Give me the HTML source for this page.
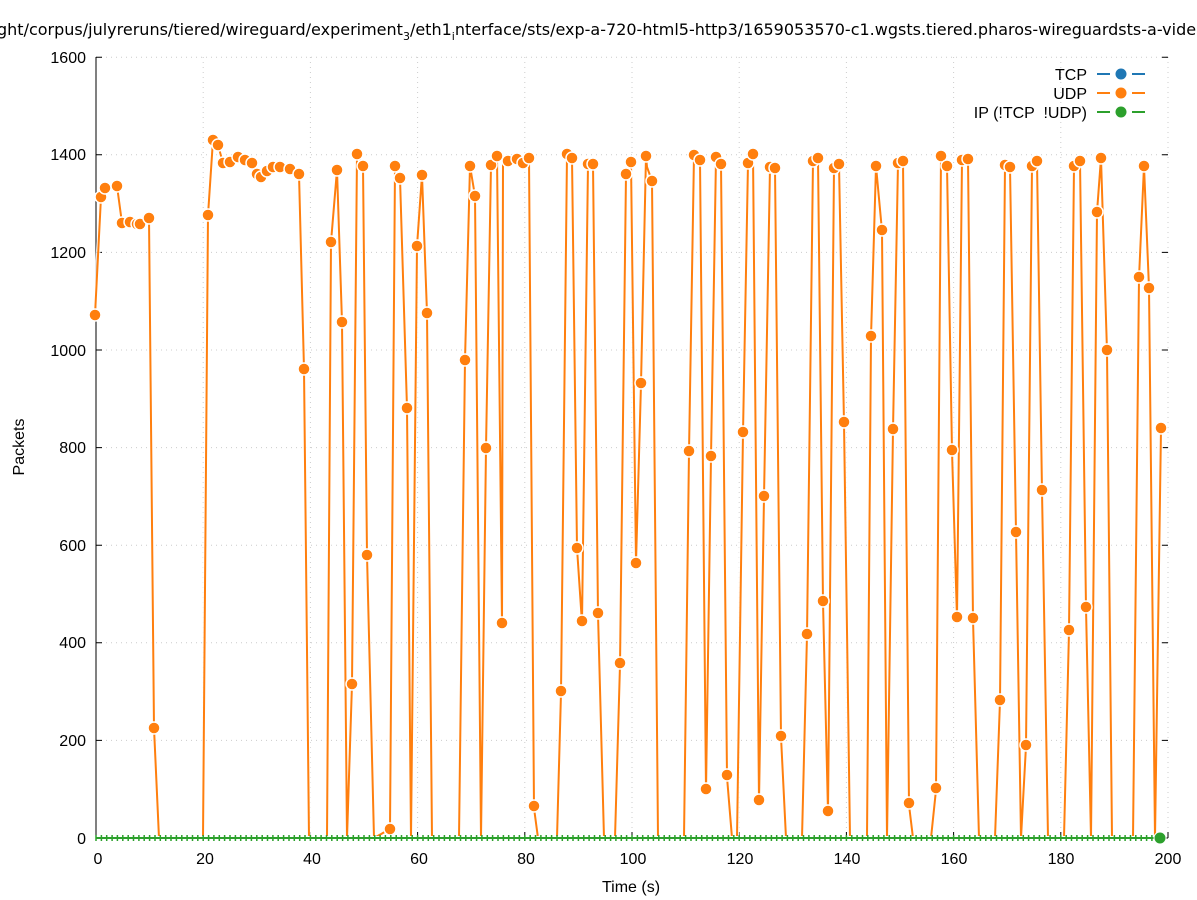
<!DOCTYPE html>
<html><head><meta charset="utf-8"><style>body{margin:0;background:#fff}svg{display:block;font-family:"Liberation Sans","DejaVu Sans",sans-serif}</style></head>
<body>
<svg width="1197" height="900" viewBox="0 0 1197 900" xmlns="http://www.w3.org/2000/svg">
<rect width="1197" height="900" fill="#fff"/>
<g stroke="#ccc" stroke-width="1" stroke-dasharray="1,4">
<line x1="96" y1="740.4" x2="1168" y2="740.4"/><line x1="96" y1="642.8" x2="1168" y2="642.8"/><line x1="96" y1="545.2" x2="1168" y2="545.2"/><line x1="96" y1="447.6" x2="1168" y2="447.6"/><line x1="96" y1="350" x2="1168" y2="350"/><line x1="96" y1="252.4" x2="1168" y2="252.4"/><line x1="96" y1="154.8" x2="1168" y2="154.8"/><line x1="96" y1="57.2" x2="1168" y2="57.2"/>
<line x1="203.2" y1="57" x2="203.2" y2="838"/><line x1="310.4" y1="57" x2="310.4" y2="838"/><line x1="417.6" y1="57" x2="417.6" y2="838"/><line x1="524.8" y1="57" x2="524.8" y2="838"/><line x1="632" y1="57" x2="632" y2="838"/><line x1="739.2" y1="57" x2="739.2" y2="838"/><line x1="846.4" y1="57" x2="846.4" y2="838"/><line x1="953.6" y1="57" x2="953.6" y2="838"/><line x1="1060.8" y1="57" x2="1060.8" y2="838"/><line x1="1168" y1="57" x2="1168" y2="838"/>
</g>
<g stroke="#000" stroke-width="1">
<line x1="96" y1="57" x2="96" y2="838"/><line x1="96" y1="838" x2="1168" y2="838"/>
<path d="M96 740.4h6M96 642.8h6M96 545.2h6M96 447.6h6M96 350h6M96 252.4h6M96 154.8h6M96 57.2h6M1168 740.4h-6M1168 642.8h-6M1168 545.2h-6M1168 447.6h-6M1168 350h-6M1168 252.4h-6M1168 154.8h-6M1168 57.2h-6M203.2 838v-6M310.4 838v-6M417.6 838v-6M524.8 838v-6M632 838v-6M739.2 838v-6M846.4 838v-6M953.6 838v-6M1060.8 838v-6M1168 838v-6"/>
</g>
<g font-size="16" fill="#000" text-anchor="end">
<text x="86" y="844">0</text><text x="86" y="746">200</text><text x="86" y="648">400</text><text x="86" y="551">600</text><text x="86" y="453">800</text><text x="86" y="356">1000</text><text x="86" y="258">1200</text><text x="86" y="160">1400</text><text x="86" y="63">1600</text>
</g>
<g font-size="16" fill="#000" text-anchor="middle">
<text x="98" y="864">0</text><text x="205" y="864">20</text><text x="312" y="864">40</text><text x="419" y="864">60</text><text x="526" y="864">80</text><text x="633" y="864">100</text><text x="740" y="864">120</text><text x="847" y="864">140</text><text x="954" y="864">160</text><text x="1061" y="864">180</text><text x="1168" y="864">200</text>
<text x="631" y="892">Time (s)</text>
<text transform="translate(24,447) rotate(-90)">Packets</text>
</g>
<text x="-3" y="35" font-size="16" fill="#000" style="font-family:'DejaVu Sans',sans-serif">ght/corpus/julyreruns/tiered/wireguard/experiment<tspan font-size="11" dy="5">3</tspan><tspan dy="-5">/eth1</tspan><tspan font-size="11" dy="5">i</tspan><tspan dy="-5">nterface/sts/exp-a-720-html5-http3/1659053570-c1.wgsts.tiered.pharos-wireguardsts-a-vide</tspan></text>
<g fill="none" stroke-linejoin="round">
<polyline stroke="#fff" stroke-width="4.5" opacity="0.8" points="95,315 101,197 105,188 117,186 122,223 130,222 137,224 140,224 149,218 154,728 159,838 203,838 208,215 213,140 218,145 223,163 230,162 238,157 252,163 257,174 261,177 267,171 273,167 280,167 290,169 299,174 304,369 309,838 327,838 331,242 337,170 342,322 347,838 352,684 357,154 363,166 367,555 374,838 390,829 395,166 400,178 407,408 411,838 417,246 422,175 427,313 432,838 459,838 465,360 470,166 475,196 481,838 486,448 491,165 497,156 502,623 503,161 508,161 517,159 523,163 529,158 534,808 538,838 557,838 561,693 567,154 572,158 577,548 582,623 588,164 593,164 598,614 604,838 615,838 620,665 626,174 631,162 636,563 641,384 646,156 647,167 652,181 658,838 684,838 689,452 694,155 700,160 706,791 711,457 716,157 721,164 727,777 732,838 737,838 743,433 748,163 753,154 759,801 764,497 770,167 775,168 781,737 786,838 802,838 807,635 813,161 818,158 823,602 828,812 834,168 839,164 844,423 850,838 867,838 871,337 876,166 882,231 887,838 893,430 898,163 903,161 909,805 913,838 931,838 936,790 941,156 947,166 952,451 957,618 962,160 968,159 973,619 979,838 995,838 1000,701 1005,165 1010,167 1016,532 1021,838 1026,746 1032,166 1037,161 1042,491 1048,838 1064,838 1069,631 1074,166 1080,161 1086,608 1091,838 1097,212 1101,158 1107,351 1112,838 1133,838 1139,278 1144,166 1149,288 1155,838 1161,429"/>
<polyline stroke="#ff7f0e" stroke-width="2" points="95,315 101,197 105,188 117,186 122,223 130,222 137,224 140,224 149,218 154,728 159,838 203,838 208,215 213,140 218,145 223,163 230,162 238,157 252,163 257,174 261,177 267,171 273,167 280,167 290,169 299,174 304,369 309,838 327,838 331,242 337,170 342,322 347,838 352,684 357,154 363,166 367,555 374,838 390,829 395,166 400,178 407,408 411,838 417,246 422,175 427,313 432,838 459,838 465,360 470,166 475,196 481,838 486,448 491,165 497,156 502,623 503,161 508,161 517,159 523,163 529,158 534,808 538,838 557,838 561,693 567,154 572,158 577,548 582,623 588,164 593,164 598,614 604,838 615,838 620,665 626,174 631,162 636,563 641,384 646,156 647,167 652,181 658,838 684,838 689,452 694,155 700,160 706,791 711,457 716,157 721,164 727,777 732,838 737,838 743,433 748,163 753,154 759,801 764,497 770,167 775,168 781,737 786,838 802,838 807,635 813,161 818,158 823,602 828,812 834,168 839,164 844,423 850,838 867,838 871,337 876,166 882,231 887,838 893,430 898,163 903,161 909,805 913,838 931,838 936,790 941,156 947,166 952,451 957,618 962,160 968,159 973,619 979,838 995,838 1000,701 1005,165 1010,167 1016,532 1021,838 1026,746 1032,166 1037,161 1042,491 1048,838 1064,838 1069,631 1074,166 1080,161 1086,608 1091,838 1097,212 1101,158 1107,351 1112,838 1133,838 1139,278 1144,166 1149,288 1155,838 1161,429"/>
</g>
<g fill="#ff7f0e" stroke="#fff" stroke-width="1.5">
<circle cx="95" cy="315" r="6"/><circle cx="101" cy="197" r="6"/><circle cx="105" cy="188" r="6"/><circle cx="117" cy="186" r="6"/><circle cx="122" cy="223" r="6"/><circle cx="130" cy="222" r="6"/><circle cx="137" cy="224" r="6"/><circle cx="140" cy="224" r="6"/><circle cx="149" cy="218" r="6"/><circle cx="154" cy="728" r="6"/>
<circle cx="208" cy="215" r="6"/><circle cx="213" cy="140" r="6"/><circle cx="218" cy="145" r="6"/><circle cx="223" cy="163" r="6"/><circle cx="230" cy="162" r="6"/><circle cx="238" cy="157" r="6"/><circle cx="245" cy="160" r="6"/><circle cx="252" cy="163" r="6"/><circle cx="257" cy="174" r="6"/><circle cx="261" cy="177" r="6"/><circle cx="267" cy="171" r="6"/><circle cx="273" cy="167" r="6"/><circle cx="280" cy="167" r="6"/><circle cx="290" cy="169" r="6"/><circle cx="299" cy="174" r="6"/><circle cx="304" cy="369" r="6"/>
<circle cx="331" cy="242" r="6"/><circle cx="337" cy="170" r="6"/><circle cx="342" cy="322" r="6"/><circle cx="352" cy="684" r="6"/><circle cx="357" cy="154" r="6"/><circle cx="363" cy="166" r="6"/><circle cx="367" cy="555" r="6"/><circle cx="390" cy="829" r="6"/><circle cx="395" cy="166" r="6"/><circle cx="400" cy="178" r="6"/><circle cx="407" cy="408" r="6"/><circle cx="417" cy="246" r="6"/><circle cx="422" cy="175" r="6"/><circle cx="427" cy="313" r="6"/>
<circle cx="465" cy="360" r="6"/><circle cx="470" cy="166" r="6"/><circle cx="475" cy="196" r="6"/><circle cx="486" cy="448" r="6"/><circle cx="491" cy="165" r="6"/><circle cx="497" cy="156" r="6"/><circle cx="502" cy="623" r="6"/><circle cx="508" cy="161" r="6"/><circle cx="517" cy="159" r="6"/><circle cx="523" cy="163" r="6"/><circle cx="529" cy="158" r="6"/><circle cx="534" cy="806" r="6"/>
<circle cx="561" cy="691" r="6"/><circle cx="567" cy="154" r="6"/><circle cx="572" cy="158" r="6"/><circle cx="577" cy="548" r="6"/><circle cx="582" cy="621" r="6"/><circle cx="588" cy="164" r="6"/><circle cx="593" cy="164" r="6"/><circle cx="598" cy="613" r="6"/><circle cx="620" cy="663" r="6"/><circle cx="626" cy="174" r="6"/><circle cx="631" cy="162" r="6"/><circle cx="636" cy="563" r="6"/><circle cx="641" cy="383" r="6"/><circle cx="646" cy="156" r="6"/><circle cx="652" cy="181" r="6"/>
<circle cx="689" cy="451" r="6"/><circle cx="694" cy="155" r="6"/><circle cx="700" cy="160" r="6"/><circle cx="706" cy="789" r="6"/><circle cx="711" cy="456" r="6"/><circle cx="716" cy="157" r="6"/><circle cx="721" cy="164" r="6"/><circle cx="727" cy="775" r="6"/><circle cx="743" cy="432" r="6"/><circle cx="748" cy="163" r="6"/><circle cx="753" cy="154" r="6"/><circle cx="759" cy="800" r="6"/><circle cx="764" cy="496" r="6"/><circle cx="770" cy="167" r="6"/><circle cx="775" cy="168" r="6"/><circle cx="781" cy="736" r="6"/>
<circle cx="807" cy="634" r="6"/><circle cx="813" cy="161" r="6"/><circle cx="818" cy="158" r="6"/><circle cx="823" cy="601" r="6"/><circle cx="828" cy="811" r="6"/><circle cx="834" cy="168" r="6"/><circle cx="839" cy="164" r="6"/><circle cx="844" cy="422" r="6"/><circle cx="871" cy="336" r="6"/><circle cx="876" cy="166" r="6"/><circle cx="882" cy="230" r="6"/><circle cx="893" cy="429" r="6"/><circle cx="898" cy="163" r="6"/><circle cx="903" cy="161" r="6"/><circle cx="909" cy="803" r="6"/>
<circle cx="936" cy="788" r="6"/><circle cx="941" cy="156" r="6"/><circle cx="947" cy="166" r="6"/><circle cx="952" cy="450" r="6"/><circle cx="957" cy="617" r="6"/><circle cx="962" cy="160" r="6"/><circle cx="968" cy="159" r="6"/><circle cx="973" cy="618" r="6"/><circle cx="1000" cy="700" r="6"/><circle cx="1005" cy="165" r="6"/><circle cx="1010" cy="167" r="6"/><circle cx="1016" cy="532" r="6"/><circle cx="1026" cy="745" r="6"/><circle cx="1032" cy="166" r="6"/><circle cx="1037" cy="161" r="6"/><circle cx="1042" cy="490" r="6"/>
<circle cx="1069" cy="630" r="6"/><circle cx="1074" cy="166" r="6"/><circle cx="1080" cy="161" r="6"/><circle cx="1086" cy="607" r="6"/><circle cx="1097" cy="212" r="6"/><circle cx="1101" cy="158" r="6"/><circle cx="1107" cy="350" r="6"/><circle cx="1139" cy="277" r="6"/><circle cx="1144" cy="166" r="6"/><circle cx="1149" cy="288" r="6"/><circle cx="1161" cy="428" r="6"/>
</g>
<path d="M96 838H1160" stroke="#fff" stroke-width="4"/>
<path d="M96 838H1160" stroke="#2ca02c" stroke-width="2"/>
<g fill="none" stroke="#2ca02c" stroke-width="1.5">
<path d="M96 835v6M101.4 835v6M106.7 835v6M112.1 835v6M117.4 835v6M122.8 835v6M128.2 835v6M133.5 835v6M138.9 835v6M144.2 835v6M149.6 835v6M155 835v6M160.3 835v6M165.7 835v6M171 835v6M176.4 835v6M181.8 835v6M187.1 835v6M192.5 835v6M197.8 835v6M203.2 835v6M208.6 835v6M213.9 835v6M219.3 835v6M224.6 835v6M230 835v6M235.4 835v6M240.7 835v6M246.1 835v6M251.4 835v6M256.8 835v6M262.2 835v6M267.5 835v6M272.9 835v6M278.2 835v6M283.6 835v6M289 835v6M294.3 835v6M299.7 835v6M305 835v6M310.4 835v6M315.8 835v6M321.1 835v6M326.5 835v6M331.8 835v6M337.2 835v6M342.6 835v6M347.9 835v6M353.3 835v6M358.6 835v6M364 835v6M369.4 835v6M374.7 835v6M380.1 835v6M385.4 835v6M390.8 835v6M396.2 835v6M401.5 835v6M406.9 835v6M412.2 835v6M417.6 835v6M423 835v6M428.3 835v6M433.7 835v6M439 835v6M444.4 835v6M449.8 835v6M455.1 835v6M460.5 835v6M465.8 835v6M471.2 835v6M476.6 835v6M481.9 835v6M487.3 835v6M492.6 835v6M498 835v6M503.4 835v6M508.7 835v6M514.1 835v6M519.4 835v6M524.8 835v6M530.2 835v6M535.5 835v6M540.9 835v6M546.2 835v6M551.6 835v6M557 835v6M562.3 835v6M567.7 835v6M573 835v6M578.4 835v6M583.8 835v6M589.1 835v6M594.5 835v6M599.8 835v6M605.2 835v6M610.6 835v6M615.9 835v6M621.3 835v6M626.6 835v6M632 835v6M637.4 835v6M642.7 835v6M648.1 835v6M653.4 835v6M658.8 835v6M664.2 835v6M669.5 835v6M674.9 835v6M680.2 835v6M685.6 835v6M691 835v6M696.3 835v6M701.7 835v6M707 835v6M712.4 835v6M717.8 835v6M723.1 835v6M728.5 835v6M733.8 835v6M739.2 835v6M744.6 835v6M749.9 835v6M755.3 835v6M760.6 835v6M766 835v6M771.4 835v6M776.7 835v6M782.1 835v6M787.4 835v6M792.8 835v6M798.2 835v6M803.5 835v6M808.9 835v6M814.2 835v6M819.6 835v6M825 835v6M830.3 835v6M835.7 835v6M841 835v6M846.4 835v6M851.8 835v6M857.1 835v6M862.5 835v6M867.8 835v6M873.2 835v6M878.6 835v6M883.9 835v6M889.3 835v6M894.6 835v6M900 835v6M905.4 835v6M910.7 835v6M916.1 835v6M921.4 835v6M926.8 835v6M932.2 835v6M937.5 835v6M942.9 835v6M948.2 835v6M953.6 835v6M959 835v6M964.3 835v6M969.7 835v6M975 835v6M980.4 835v6M985.8 835v6M991.1 835v6M996.5 835v6M1001.8 835v6M1007.2 835v6M1012.6 835v6M1017.9 835v6M1023.3 835v6M1028.6 835v6M1034 835v6M1039.4 835v6M1044.7 835v6M1050.1 835v6M1055.4 835v6M1060.8 835v6M1066.2 835v6M1071.5 835v6M1076.9 835v6M1082.2 835v6M1087.6 835v6M1093 835v6M1098.3 835v6M1103.7 835v6M1109 835v6M1114.4 835v6M1119.8 835v6M1125.1 835v6M1130.5 835v6M1135.8 835v6M1141.2 835v6M1146.6 835v6M1151.9 835v6"/>
</g>
<circle cx="1160" cy="838" r="6" fill="#2ca02c" stroke="#fff" stroke-width="1"/>
<g font-size="16" fill="#000" text-anchor="end">
<text x="1087" y="80">TCP</text><text x="1087" y="99">UDP</text><text x="1087" y="118" xml:space="preserve">IP (!TCP  !UDP)</text>
</g>
<g stroke-width="2">
<line x1="1097" y1="74" x2="1145" y2="74" stroke="#1f77b4" stroke-dasharray="13,22"/><circle cx="1121" cy="74" r="5.5" fill="#1f77b4" stroke="none"/>
<line x1="1097" y1="93" x2="1145" y2="93" stroke="#ff7f0e" stroke-dasharray="13,22"/><circle cx="1121" cy="93" r="5.5" fill="#ff7f0e" stroke="none"/>
<line x1="1097" y1="112" x2="1145" y2="112" stroke="#2ca02c" stroke-dasharray="13,22"/><circle cx="1121" cy="112" r="5.5" fill="#2ca02c" stroke="none"/>
</g>
</svg>
</body></html>
